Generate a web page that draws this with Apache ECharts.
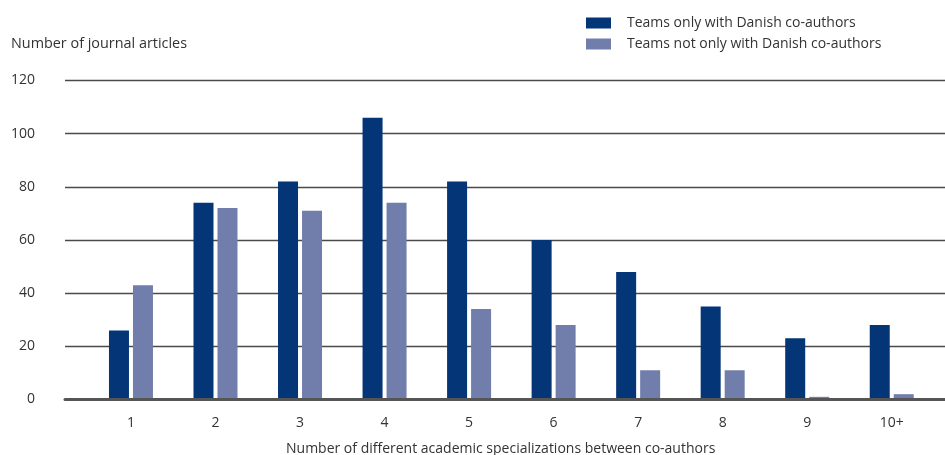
<!DOCTYPE html>
<html><head><meta charset="utf-8">
<script src="https://cdn.jsdelivr.net/npm/echarts@6/dist/echarts.min.js"></script>
<style>html,body{margin:0;padding:0;background:#fff}#c{width:945px;height:455px}</style>
</head><body><div id="c"></div>
<script>
const categories = ['1','2','3','4','5','6','7','8','9','10+'];
const danishOnly = [26, 74, 82, 106, 82, 60, 48, 35, 23, 28];
const notDanishOnly = [43, 72, 71, 74, 34, 28, 11, 11, 1, 2];
const seriesNames = ['Teams only with Danish co-authors', 'Teams not only with Danish co-authors'];
const yTitle = 'Number of journal articles';
const xTitle = 'Number of different academic specializations between co-authors';

const FONT = '"Open Sans", "Noto Sans", sans-serif';
const chart = echarts.init(document.getElementById('c'), null, {renderer:'canvas'});
chart.setOption({
  animation: false,
  textStyle: {fontFamily: FONT, color: '#333'},
  title: [
    {text: yTitle, left: 6, top: 32, textStyle: {fontFamily: FONT, fontSize: 14.4, fontWeight: 'normal', color: '#333'}},
    {text: xTitle, left: 281, top: 437, textStyle: {fontFamily: FONT, fontSize: 14, fontWeight: 'normal', color: '#333'}}
  ],
  legend: {
    orient: 'vertical', left: 586, top: 16, padding: 0, itemWidth: 25, itemHeight: 11, itemGap: 7,
    icon: 'rect',
    textStyle: {fontFamily: FONT, fontSize: 14, color: '#333', padding: [0,0,0,11]},
    data: seriesNames
  },
  grid: [
    {left: 65, right: 0, top: 80.5, height: 319},
    {left: 88.7, right: 11, top: 80.5, height: 319}
  ],
  xAxis: [
    {gridIndex: 0, type: 'value', min: 0, max: 1, axisLabel: {show: false}, axisTick: {show: false},
     splitLine: {show: false}, axisLine: {show: true, lineStyle: {color: '#555', width: 3}}, z: 5},
    {gridIndex: 1, type: 'category', data: categories, axisLine: {show: false}, axisTick: {show: false},
     axisLabel: {margin: 17, fontSize: 14, color: '#333', fontFamily: FONT}}
  ],
  yAxis: [
    {gridIndex: 0, type: 'value', min: 0, max: 120, interval: 20,
     axisLine: {show: false}, axisTick: {show: false},
     axisLabel: {margin: 30, fontSize: 14, color: '#333', fontFamily: FONT},
     splitLine: {lineStyle: {color: '#4a4a4a', width: 1.3}}},
    {gridIndex: 1, type: 'value', min: 0, max: 120, interval: 20, show: false, splitLine: {show: false}}
  ],
  series: [
    {name: seriesNames[0], type: 'bar', xAxisIndex: 1, yAxisIndex: 1, data: danishOnly,
     barWidth: 20, barGap: '20%', itemStyle: {color: '#033577'}},
    {name: seriesNames[1], type: 'bar', xAxisIndex: 1, yAxisIndex: 1, data: notDanishOnly,
     barWidth: 20, barGap: '20%', itemStyle: {color: '#717EAC'}}
  ]
});
</script></body></html>
